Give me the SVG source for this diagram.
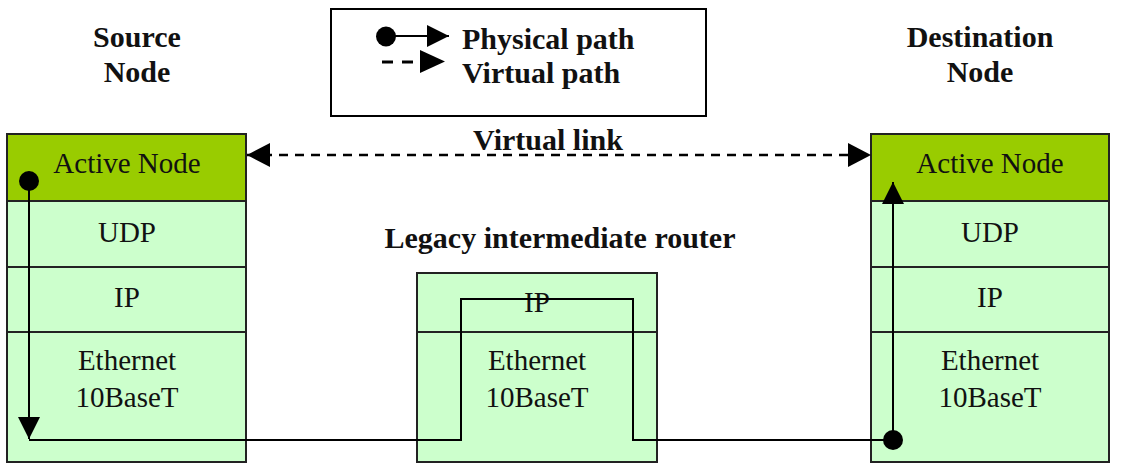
<svg xmlns="http://www.w3.org/2000/svg" width="1123" height="465" viewBox="0 0 1123 465">
<style>
.box{fill:#CCFFCC;stroke:#222;stroke-width:2}
.act{fill:#99CC00;stroke:#222;stroke-width:2}
.div{stroke:#222;stroke-width:2}
.t{font-family:"Liberation Serif",serif;font-size:29px;fill:#111;text-anchor:middle}
.b{font-family:"Liberation Serif",serif;font-size:30px;font-weight:bold;fill:#111;text-anchor:middle}
.bl{font-family:"Liberation Serif",serif;font-size:30px;font-weight:bold;fill:#111}
.p{fill:none;stroke:#000;stroke-width:2}
.v{fill:none;stroke:#000;stroke-width:2.5;stroke-dasharray:9 7}
</style>
<defs>
<marker id="big" viewBox="0 0 22 22" refX="22" refY="11" markerWidth="22" markerHeight="22" markerUnits="userSpaceOnUse" orient="auto-start-reverse">
<path d="M0,0 L22,11 L0,22 z" fill="#000"/>
</marker>
<marker id="vb" viewBox="0 0 23 24" refX="23" refY="12" markerWidth="23" markerHeight="24" markerUnits="userSpaceOnUse" orient="auto-start-reverse">
<path d="M0,0 L23,12 L0,24 z" fill="#000"/>
</marker>
</defs>
<rect width="1123" height="465" fill="#fff"/>

<g id="legend">
<rect x="331" y="9" width="375" height="107" fill="#fff" stroke="#000" stroke-width="2"/>
<circle cx="386" cy="36.5" r="10" fill="#000"/>
<line x1="386" y1="36" x2="449" y2="36" class="p" marker-end="url(#big)"/>
<line x1="382" y1="62" x2="393" y2="62" stroke="#000" stroke-width="3"/>
<line x1="402" y1="62" x2="413" y2="62" stroke="#000" stroke-width="3"/>
<path d="M420,50 L445,61.5 L420,73 z" fill="#000"/>
<text x="462" y="49" class="bl">Physical path</text>
<text x="462" y="83" class="bl">Virtual path</text>
</g>

<g id="source-label">
<text x="137" y="47" class="b">Source</text>
<text x="137" y="82" class="b">Node</text>
</g>
<g id="dest-label">
<text x="980" y="47" class="b">Destination</text>
<text x="980" y="82" class="b">Node</text>
</g>

<g id="source-node">
<rect x="7" y="134" width="239" height="328" class="box"/>
<rect x="7" y="134" width="239" height="67" class="act"/>
<line x1="7" y1="267" x2="246" y2="267" class="div"/>
<line x1="7" y1="332" x2="246" y2="332" class="div"/>
<text x="127" y="173" class="t">Active Node</text>
<text x="127" y="242" class="t">UDP</text>
<text x="127" y="307" class="t">IP</text>
<text x="127" y="370" class="t">Ethernet</text>
<text x="127" y="407" class="t">10BaseT</text>
</g>

<g id="router">
<text x="560" y="248" class="b">Legacy intermediate router</text>
<rect x="417" y="273" width="240" height="189" class="box"/>
<line x1="417" y1="332" x2="657" y2="332" class="div"/>
<text x="537" y="312" class="t">IP</text>
<text x="537" y="370" class="t">Ethernet</text>
<text x="537" y="407" class="t">10BaseT</text>
</g>

<g id="dest-node">
<rect x="871" y="134" width="238" height="328" class="box"/>
<rect x="871" y="134" width="238" height="67" class="act"/>
<line x1="871" y1="267" x2="1109" y2="267" class="div"/>
<line x1="871" y1="332" x2="1109" y2="332" class="div"/>
<text x="990" y="173" class="t">Active Node</text>
<text x="990" y="242" class="t">UDP</text>
<text x="990" y="307" class="t">IP</text>
<text x="990" y="370" class="t">Ethernet</text>
<text x="990" y="407" class="t">10BaseT</text>
</g>

<g id="connectors">
<text x="548" y="150" class="b">Virtual link</text>
<line x1="247" y1="155" x2="871" y2="155" class="v" marker-start="url(#vb)" marker-end="url(#vb)"/>
<circle cx="29" cy="181" r="10" fill="#000"/>
<line x1="29" y1="181" x2="29" y2="439" class="p" marker-end="url(#big)"/>
<polyline points="29,440 461,440 461,299 633,299 633,440 893,440" class="p"/>
<circle cx="893" cy="440" r="10" fill="#000"/>
<line x1="893" y1="440" x2="893" y2="182" class="p" marker-end="url(#big)"/>
</g>
</svg>
